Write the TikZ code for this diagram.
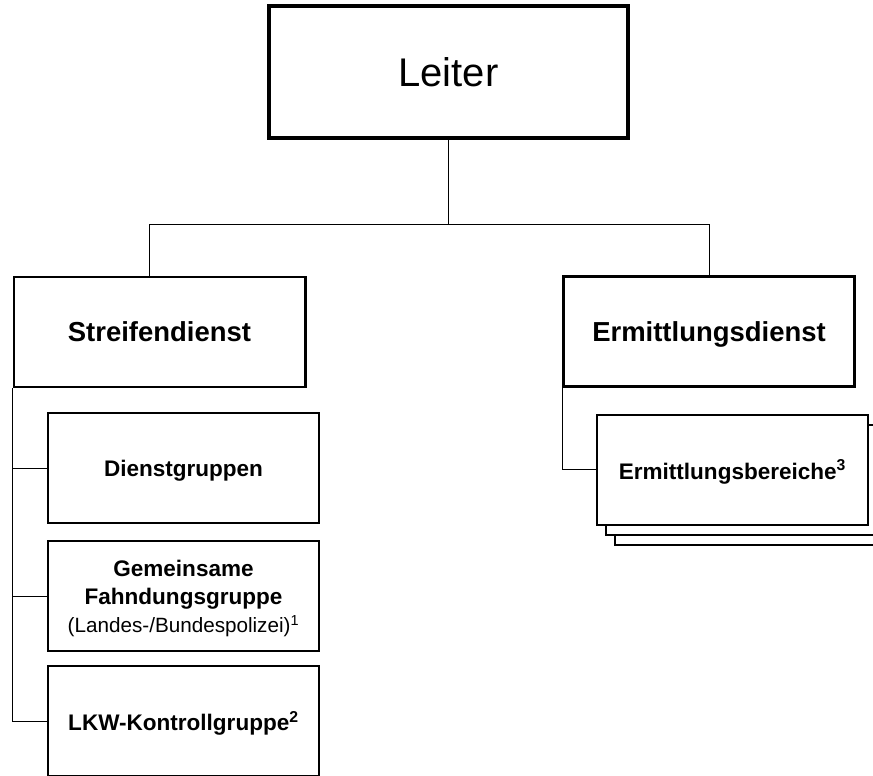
\documentclass[tikz,border=0pt]{standalone}
\usepackage{fontspec}
\setmainfont{Liberation Sans}
\usetikzlibrary{shadows}

\begin{document}
\begin{tikzpicture}[x=0.75pt,y=-0.75pt,
    chief/.style={draw, line width=3pt, fill=white, inner sep=0pt,
        minimum width=269pt, minimum height=99pt,
        font=\fontsize{30}{36}\selectfont},
    service/.style={draw, line width=2pt, fill=white, inner sep=0pt,
        minimum width=218.5pt, minimum height=82.5pt, text depth=0pt,
        font=\bfseries\fontsize{20.6}{24}\selectfont},
    unit/.style={draw, line width=1.5pt, fill=white, inner sep=0pt,
        minimum width=203.25pt, minimum height=82.5pt, align=center,
        text depth=0pt, font=\bfseries\fontsize{16.9}{21}\selectfont},
    link/.style={line width=0.75pt}]

    \useasboundingbox (0,0) rectangle (873,775);
    \clip (0,0) rectangle (873,775);

    % Leiter
    \node[chief] (leiter) at (448.5,72) {Leiter};

    % Dienste
    \node[service] (streife) at (159.5,332) {Streifendienst};
    \node[service] (ermittl) at (709,331.5) {Ermittlungsdienst};

    % Gruppen im Streifendienst
    \node[unit] (dienst) at (183.5,468) {Dienstgruppen};
    \node[unit] (fahndung) at (183.5,596) {Gemeinsame\\Fahndungsgruppe\\
        {\mdseries\fontsize{15.5}{18}\selectfont (Landes-/Bundespolizei)\textsuperscript{1}}};
    \node[unit] (lkw) at (183.5,721) {LKW-Kontrollgruppe\textsuperscript{2}};

    % Ermittlungsbereiche (gestapelt)
    \node[unit,
        copy shadow={shadow xshift=13.5pt, shadow yshift=-15pt},
        copy shadow={shadow xshift=6.75pt, shadow yshift=-7.5pt}]
        (bereiche) at (732.5,469.5) {Ermittlungsbereiche\textsuperscript{3}};

    % Verbindungen
    \coordinate (lbranch) at (149,224);
    \coordinate (rbranch) at (ermittl.north |- lbranch);
    \draw[link] (leiter.south) -- (leiter.south |- lbranch);
    \draw[link] (lbranch) -- (rbranch);
    \draw[link] (lbranch) -- (lbranch |- streife.north);
    \draw[link] (rbranch) -- (ermittl.north);

    \draw[link] (streife.south west) |- (lkw.west);
    \draw[link] (streife.south west |- dienst.west) -- (dienst.west);
    \draw[link] (streife.south west |- fahndung.west) -- (fahndung.west);
    \draw[link] (ermittl.south west) |- (bereiche.west);

\end{tikzpicture}
\end{document}
